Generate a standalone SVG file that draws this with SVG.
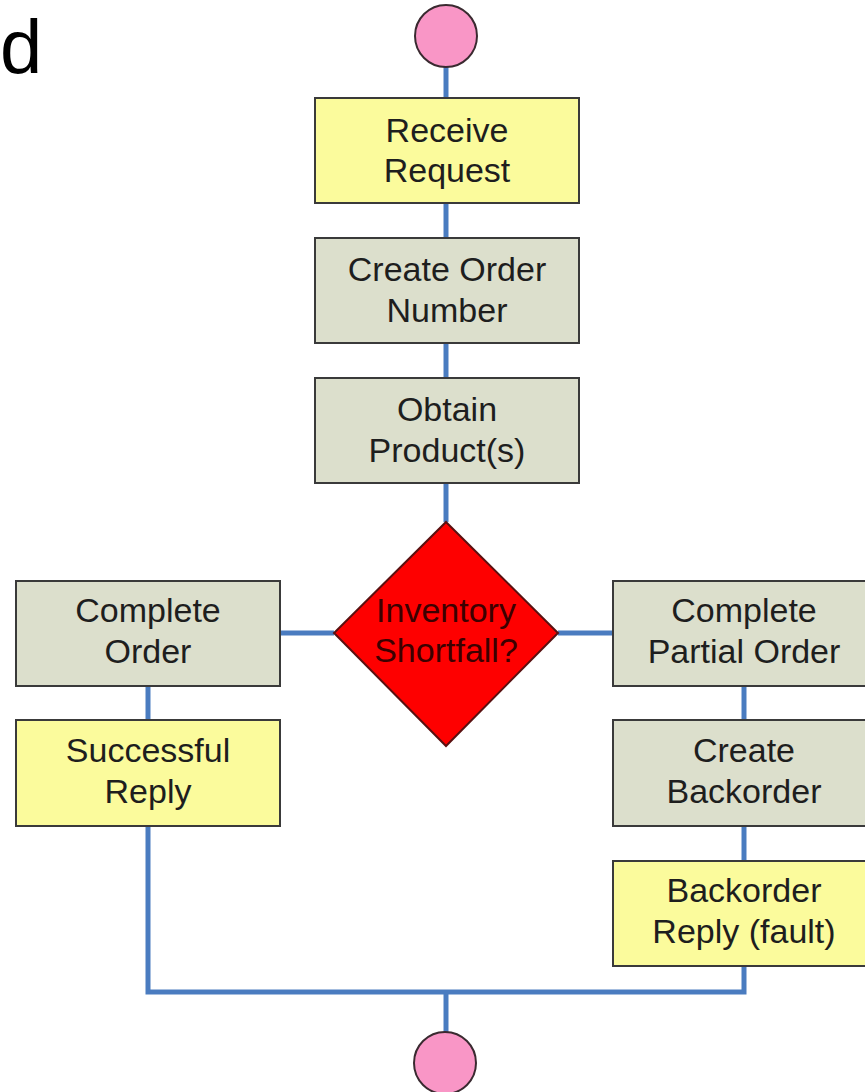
<svg xmlns="http://www.w3.org/2000/svg" width="865" height="1092" viewBox="0 0 865 1092">
  <style>
    .lbl { font-family: "Liberation Sans", Arial, sans-serif; font-size: 34px; fill: #1e1e1e; text-anchor: middle; }
    .step { fill: #dcdfcc; stroke: #3a3a3a; stroke-width: 2; }
    .reply { fill: #fbfb9c; stroke: #3a3a3a; stroke-width: 2; }
    .term { fill: #f996c6; stroke: #3a2a30; stroke-width: 2; }
    .conn { fill: none; stroke: #4a7cc0; stroke-width: 5; }
  </style>
  <rect width="865" height="1092" fill="#ffffff"/>
  <text x="0" y="73" font-family="'Liberation Sans', Arial, sans-serif" font-size="76" fill="#000">d</text>

  <g id="connectors">
    <path class="conn" d="M446,67 V98"/>
    <path class="conn" d="M446,203 V238"/>
    <path class="conn" d="M446,343 V378"/>
    <path class="conn" d="M446,483 V522"/>
    <path class="conn" d="M334,633 H280"/>
    <path class="conn" d="M558,633 H613"/>
    <path class="conn" d="M148,686 V720"/>
    <path class="conn" d="M744,686 V720"/>
    <path class="conn" d="M744,826 V861"/>
    <path class="conn" d="M148,826 V992 H744 V966"/>
    <path class="conn" d="M446,992 V1032"/>
  </g>

  <g id="start"><circle class="term" cx="446" cy="36" r="31"/></g>

  <g id="receive-request">
    <rect class="reply" x="315" y="98" width="264" height="105"/>
    <text class="lbl" x="447" y="142">Receive</text>
    <text class="lbl" x="447" y="182">Request</text>
  </g>

  <g id="create-order-number">
    <rect class="step" x="315" y="238" width="264" height="105"/>
    <text class="lbl" x="447" y="281">Create Order</text>
    <text class="lbl" x="447" y="322">Number</text>
  </g>

  <g id="obtain-products">
    <rect class="step" x="315" y="378" width="264" height="105"/>
    <text class="lbl" x="447" y="421">Obtain</text>
    <text class="lbl" x="447" y="462">Product(s)</text>
  </g>

  <g id="inventory-shortfall">
    <polygon points="446,522 558,633 446,746 334,633" fill="#fe0000" stroke="#5a1010" stroke-width="2"/>
    <text class="lbl" x="446" y="622" style="fill:#3c0000">Inventory</text>
    <text class="lbl" x="446" y="662" style="fill:#3c0000">Shortfall?</text>
  </g>

  <g id="complete-order">
    <rect class="step" x="16" y="581" width="264" height="105"/>
    <text class="lbl" x="148" y="622">Complete</text>
    <text class="lbl" x="148" y="663">Order</text>
  </g>

  <g id="successful-reply">
    <rect class="reply" x="16" y="720" width="264" height="106"/>
    <text class="lbl" x="148" y="762">Successful</text>
    <text class="lbl" x="148" y="803">Reply</text>
  </g>

  <g id="complete-partial-order">
    <rect class="step" x="613" y="581" width="264" height="105"/>
    <text class="lbl" x="744" y="622">Complete</text>
    <text class="lbl" x="744" y="663">Partial Order</text>
  </g>

  <g id="create-backorder">
    <rect class="step" x="613" y="720" width="264" height="106"/>
    <text class="lbl" x="744" y="762">Create</text>
    <text class="lbl" x="744" y="803">Backorder</text>
  </g>

  <g id="backorder-reply">
    <rect class="reply" x="613" y="861" width="264" height="105"/>
    <text class="lbl" x="744" y="902">Backorder</text>
    <text class="lbl" x="744" y="943">Reply (fault)</text>
  </g>

  <g id="end"><circle class="term" cx="445" cy="1063" r="31"/></g>
</svg>
